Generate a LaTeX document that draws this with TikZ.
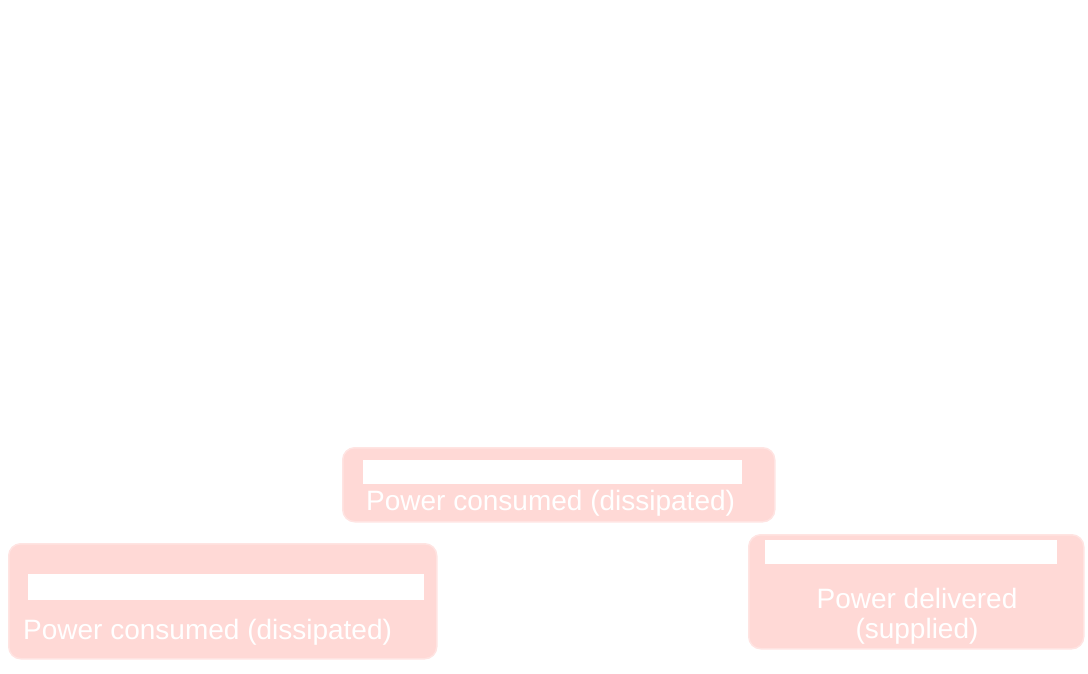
\documentclass[tikz,border=0pt]{standalone}
\usepackage{fontspec}
\setmainfont{Liberation Sans}
\definecolor{boxfill}{RGB}{255,217,214}
\definecolor{boxline}{RGB}{255,228,226}
\begin{document}
\begin{tikzpicture}[x=1pt,y=-1pt,
  pinkbox/.style={draw=boxline,line width=1.5pt,fill=boxfill,rounded corners=12pt},
  whitebar/.style={fill=white,draw=none},
  label/.style={text=white,font=\fontsize{28}{33}\selectfont,inner sep=0pt}]
\useasboundingbox (0,0) rectangle (1088,673);
% box 1 (top middle)
\node[pinkbox,minimum width=432pt,minimum height=74pt,anchor=north west,inner sep=0pt] (b1) at (342,447) {};
\node[whitebar,minimum width=379pt,minimum height=24pt,anchor=north west,inner sep=0pt] (w1) at (363,460) {};
\node[label,anchor=base west] (t1) at (366,510) {Power consumed (dissipated)};
% box 2 (bottom left)
\node[pinkbox,minimum width=428pt,minimum height=115pt,anchor=north west,inner sep=0pt] (b2) at (8,543) {};
\node[whitebar,minimum width=396pt,minimum height=26pt,anchor=north west,inner sep=0pt] (w2) at (28,574) {};
\node[label,anchor=base west] (t2) at (23,639) {Power consumed (dissipated)};
% box 3 (bottom right)
\node[pinkbox,minimum width=335pt,minimum height=114pt,anchor=north west,inner sep=0pt] (b3) at (748,534) {};
\node[whitebar,minimum width=292pt,minimum height=24pt,anchor=north west,inner sep=0pt] (w3) at (765,540) {};
\node[label,anchor=base] (t3a) at (917,608) {Power delivered};
\node[label,anchor=base] (t3b) at (917,638) {(supplied)};
\end{tikzpicture}
\end{document}
